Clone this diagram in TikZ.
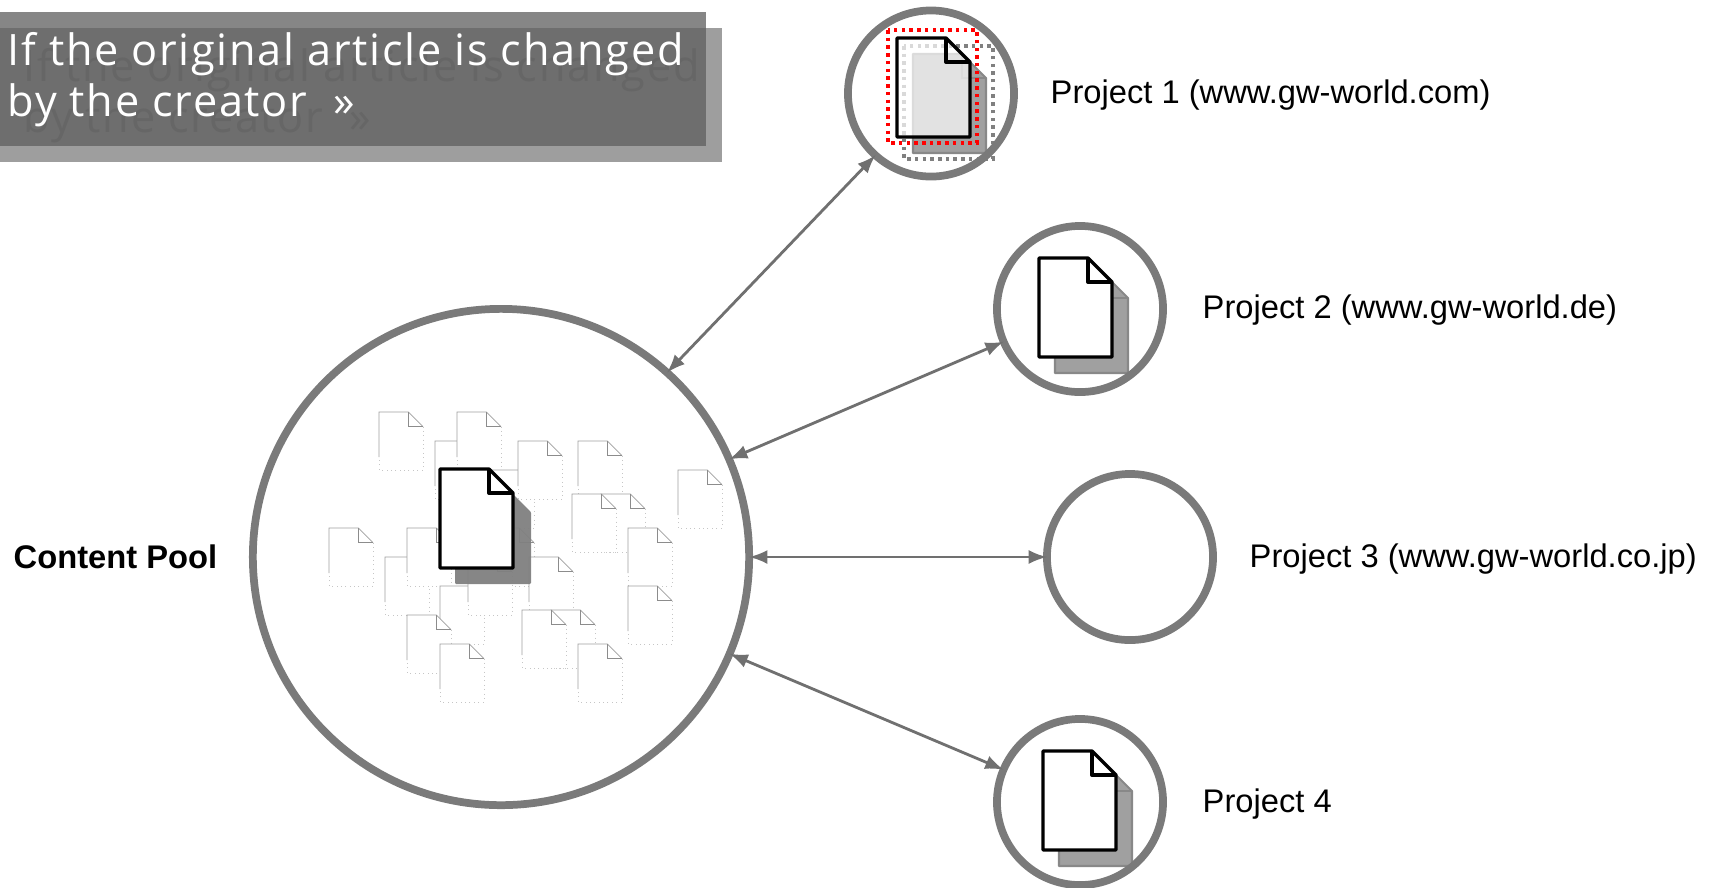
\documentclass[tikz,border=0pt]{standalone}
\usepackage{fontspec}
\setmainfont{Liberation Sans}
\newfontfamily\bannerfont[LetterSpace=4]{Open Sans}
\usetikzlibrary{positioning}

\definecolor{anneau}{HTML}{7A7A7A}
\definecolor{trait}{HTML}{707070}
\definecolor{ombre}{HTML}{A0A0A0}
\definecolor{ombrebord}{HTML}{888888}
\definecolor{bandeA}{HTML}{868686}
\definecolor{bandeB}{HTML}{9E9E9E}
\definecolor{bandeC}{HTML}{6E6E6E}
\definecolor{texteombre}{HTML}{666666}

% document shapes: top left corner as arguments
\newcommand{\bigdoc}[2]{
	\draw[ombrebord, fill=ombre, line width=0.6pt, line join=round] (#1+16,#2+16) -- ++(49,0) -- ++(24,24) -- ++(0,75) -- ++(-73,0) -- cycle;
	\draw[ombrebord, line width=0.6pt] (#1+65,#2+16) -- ++(0,24) -- ++(24,0);
}
\newcommand{\bigface}[2]{
	\draw[black, line width=0.95pt, line join=round] (#1,#2) -- ++(49,0) -- ++(24,24) -- ++(0,75) -- ++(-73,0) -- cycle;
	\draw[black, line width=0.95pt, line join=round] (#1+49,#2) -- ++(0,24) -- ++(24,0);
}

\begin{document}
\begin{tikzpicture}[x=0.01cm, y=-0.01cm]
	\tikzset{cercle/.style={circle, draw=anneau, line width=2.2pt, inner sep=0pt, outer sep=0pt, minimum size=1.66cm},
		fleche/.style={>=latex, <->, trait, line width=0.8pt},
		texte/.style={anchor=west, inner sep=0pt, font=\fontsize{9.3}{11}\selectfont},
		banner/.style={anchor=north west, inner sep=0pt, align=left, font=\bannerfont\fontsize{12.3}{14.5}\selectfont}};

	\useasboundingbox (0,0) rectangle (1715,887);

	% banner
	\fill[bandeA] (0,12) rectangle (706,146);
	\fill[bandeB] (0,28) rectangle (722,162);
	\fill[bandeC] (0,28) rectangle (706,146);
	\node[banner, texteombre] (bannerback) at (23,48) {If the original article is changed\\by the creator\ \ »};
	\node[banner, white] (bannertext) at (7,32) {If the original article is changed\\by the creator\ \ »};

	% small documents of the pool
	\foreach \x/\y in {435/441, 457/412, 379/412, 490/470, 518/441, 578/441, 678/470, 329/528, 385/557, 407/528, 490/528,
			601/494, 572/494, 628/528, 529/557, 440/586, 468/557, 628/586, 407/615, 551/610, 522/610, 440/644, 578/644} {
		\fill[white] (\x,\y) -- ++(29.5,0) -- ++(14.5,14.5) -- ++(0,43.5) -- ++(-44,0) -- cycle;
		\draw[gray!75, line width=0.2pt] (\x,\y+45) -- (\x,\y) -- ++(29.5,0) -- ++(14.5,14.5);
		\draw[gray!90, line width=0.25pt] (\x+29.5,\y) -- ++(0,14.5) -- ++(14.5,0);
		\draw[gray!45, line width=0.25pt, densely dotted] (\x+44,\y+14.5) -- ++(0,43.5) -- ++(-44,0) -- ++(0,-13);
	}

	% central document
	\fill[gray, opacity=0.95, rounded corners=0.3pt] (455,485) -- ++(49,0) -- ++(27,27) -- ++(0,72) -- ++(-76,0) -- cycle;
	\fill[white] (440,469) -- ++(49,0) -- ++(24,25) -- ++(0,74) -- ++(-73,0) -- cycle;
	\bigface{440}{469}

	% project 1
	\bigdoc{897}{38}
	\draw[gray, line width=1pt, dash pattern=on 1pt off 1.2pt] (904,46) rectangle (993,159);
	\fill[white, opacity=0.7] (897,38) -- ++(49,0) -- ++(24,24) -- ++(0,75) -- ++(-73,0) -- cycle;
	\bigface{897}{38}
	\draw[red, line width=1pt, dash pattern=on 1pt off 1.2pt] (888,30) rectangle (977,143);

	% project 2
	\bigdoc{1039}{258}
	\fill[white] (1039,258) -- ++(49,0) -- ++(24,24) -- ++(0,75) -- ++(-73,0) -- cycle;
	\bigface{1039}{258}

	% project 4
	\bigdoc{1043}{751}
	\fill[white] (1043,751) -- ++(49,0) -- ++(24,24) -- ++(0,75) -- ++(-73,0) -- cycle;
	\bigface{1043}{751}

	\node[cercle, minimum size=4.96cm] (pool) at (501,557) {};
	\node[cercle] (p1) at (931,93.5) {};
	\node[cercle] (p2) at (1080,309) {};
	\node[cercle] (p3) at (1130,557) {};
	\node[cercle] (p4) at (1080,802) {};

	\draw[fleche] (pool.48) to (p1.228);
	\draw[fleche] (pool) to (p2);
	\draw[fleche] (pool) to (p3);
	\draw[fleche] (pool) to (p4);

	\node[texte, font=\fontsize{9.3}{11}\selectfont\bfseries] (tpool) at (13,557) {Content Pool};
	\node[texte] (t1) at (1050,95) {Project 1 (www.gw-world.com)};
	\node[texte] (t2) at (1202,310) {Project 2 (www.gw-world.de)};
	\node[texte] (t3) at (1249,559) {Project 3 (www.gw-world.co.jp)};
	\node[texte] (t4) at (1202,804) {Project 4};
\end{tikzpicture}
\end{document}
